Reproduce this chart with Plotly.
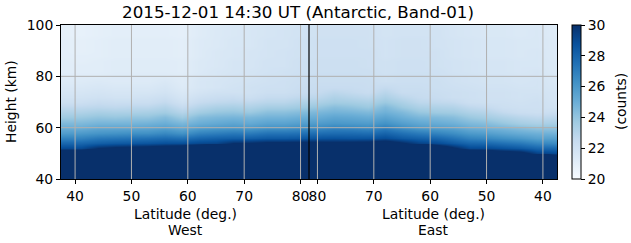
import plotly.graph_objects as go
import plotly.colors as pc

# ---------------- data ----------------
heights = [40, 42, 44, 46, 48, 50, 52, 54, 56, 58, 60, 62, 64, 66, 68, 70,
           72, 74, 76, 78, 80, 82, 84, 86, 88, 90, 92, 94, 96, 98, 100]

lat_west = [38, 41, 44, 47, 50, 53, 56, 59, 62, 65, 68, 71, 74, 77, 80]
lat_east = [80, 77, 74, 71, 68, 65, 62, 59, 56, 53, 50, 47, 44, 41, 38]

# each list: counts from 40 km (bottom) up to 100 km (top)
counts_west = [
    [33,33,33,33,33,31.9,29.0,27.9,26.8,25.8,25.1,24.5,23.7,23.2,22.7,22.2,21.9,21.7,21.5,21.3,21.2,21.1,21.1,21.1,21.0,21.0,21.0,21.0,20.9,20.9,20.9],
    [33,33,33,33,33,32.3,29.0,27.9,26.8,25.9,25.1,24.5,23.8,23.2,22.7,22.2,21.9,21.7,21.5,21.3,21.2,21.1,21.1,21.0,21.0,20.9,20.9,20.9,20.8,20.8,20.8],
    [33,33,33,33,33,33,30.0,28.2,27.2,26.1,25.4,24.7,24.0,23.4,22.8,22.4,22.0,21.8,21.6,21.4,21.2,21.1,21.1,21.1,21.0,21.0,21.0,21.0,20.9,20.9,20.9],
    [33,33,33,33,33,33,30.4,28.4,27.3,26.2,25.4,24.7,23.9,23.3,22.7,22.3,21.9,21.7,21.5,21.3,21.3,21.2,21.2,21.2,21.1,21.1,21.1,21.1,21.0,21.0,21.0],
    [33,33,33,33,33,33,30.6,28.5,27.4,26.3,25.4,24.7,24.0,23.3,22.8,22.3,21.9,21.7,21.5,21.3,21.3,21.2,21.2,21.2,21.1,21.1,21.1,21.1,21.0,21.0,21.0],
    [33,33,33,33,33,33,30.8,28.6,27.5,26.3,25.5,24.8,24.0,23.4,22.8,22.3,22.0,21.7,21.5,21.3,21.3,21.2,21.2,21.2,21.1,21.1,21.1,21.1,21.0,21.0,21.0],
    [33,33,33,33,33,33,31.2,28.8,27.7,26.6,25.7,25.0,24.4,23.6,23.1,22.6,22.2,21.9,21.7,21.5,21.3,21.2,21.2,21.2,21.1,21.1,21.1,21.1,21.0,21.0,21.0],
    [33,33,33,33,33,33,31.5,28.8,27.5,26.2,25.3,24.6,23.7,23.0,22.5,22.0,21.7,21.5,21.3,21.2,21.2,21.1,21.1,21.1,21.0,21.0,21.0,21.0,20.9,20.9,20.9],
    [33,33,33,33,33,33,32.7,29.1,27.9,26.8,25.8,25.0,24.4,23.6,23.0,22.5,22.1,21.8,21.6,21.6,21.5,21.4,21.4,21.4,21.3,21.3,21.3,21.3,21.2,21.2,21.2],
    [33,33,33,33,33,33,34.5,29.2,28.1,27.0,26.0,25.2,24.6,23.9,23.3,22.7,22.3,22.0,21.7,21.7,21.6,21.6,21.5,21.5,21.5,21.5,21.4,21.4,21.4,21.4,21.3],
    [33,33,33,33,33,33,33,30.0,28.2,27.2,26.1,25.4,24.7,24.0,23.4,22.8,22.4,22.0,21.9,21.8,21.8,21.7,21.7,21.7,21.6,21.6,21.6,21.6,21.5,21.5,21.5],
    [33,33,33,33,33,33,33,30.1,28.2,27.1,26.0,25.2,24.6,23.8,23.2,22.7,22.2,22.0,22.0,21.9,21.8,21.8,21.7,21.7,21.7,21.7,21.6,21.6,21.6,21.6,21.5],
    [33,33,33,33,33,33,33,30.4,28.4,27.4,26.3,25.5,24.8,24.2,23.5,22.9,22.5,22.2,22.1,22.0,22.0,21.9,21.9,21.9,21.8,21.8,21.8,21.8,21.7,21.7,21.7],
    [33,33,33,33,33,33,33,30.4,28.4,27.4,26.3,25.5,24.8,24.2,23.5,22.9,22.5,22.2,22.1,22.1,22.0,22.0,21.9,21.9,21.9,21.9,21.8,21.8,21.8,21.8,21.7],
    [33,33,33,33,33,33,33,30.5,28.5,27.5,26.5,25.7,25.0,24.4,23.7,23.2,22.7,22.4,22.3,22.2,22.2,22.1,22.1,22.1,22.0,22.0,22.0,22.0,21.9,21.9,21.9],
]

counts_east = [
    [33,33,33,33,33,33,33,30.5,28.6,27.6,26.6,25.8,25.1,24.6,23.9,23.3,22.8,22.5,22.4,22.3,22.3,22.2,22.2,22.2,22.1,22.1,22.1,22.1,22.0,22.0,22.0],
    [33,33,33,33,33,33,33,30.4,28.7,27.7,26.9,26.0,25.4,24.8,24.3,23.6,23.2,22.8,22.4,22.3,22.3,22.2,22.2,22.2,22.1,22.1,22.1,22.1,22.0,22.0,22.0],
    [33,33,33,33,33,33,33,30.5,28.6,27.7,26.8,25.9,25.3,24.7,24.1,23.5,23.0,22.6,22.4,22.3,22.3,22.2,22.2,22.2,22.1,22.1,22.1,22.1,22.0,22.0,22.0],
    [33,33,33,33,33,33,33,30.6,28.6,27.6,26.6,25.8,25.1,24.5,23.8,23.3,22.8,22.4,22.3,22.3,22.2,22.2,22.1,22.1,22.1,22.1,22.0,22.0,22.0,22.0,21.9],
    [33,33,33,33,33,33,33,31.1,28.9,28.0,27.1,26.2,25.5,24.9,24.5,23.8,23.3,22.9,22.5,22.1,22.1,22.0,22.0,22.0,21.9,21.9,21.9,21.9,21.8,21.8,21.8],
    [33,33,33,33,33,33,33,30.2,28.4,27.5,26.5,25.7,25.0,24.5,23.8,23.3,22.8,22.4,22.3,22.2,22.2,22.1,22.1,22.1,22.0,22.0,22.0,22.0,21.9,21.9,21.9],
    [33,33,33,33,33,33,36.3,29.3,28.1,27.1,26.0,25.3,24.6,23.9,23.3,22.8,22.5,22.4,22.3,22.2,22.2,22.1,22.1,22.1,22.0,22.0,22.0,22.0,21.9,21.9,21.9],
    [33,33,33,33,33,33,31.9,29.0,27.9,26.8,25.8,25.1,24.5,23.7,23.2,22.7,22.4,22.3,22.2,22.2,22.1,22.1,22.0,22.0,22.0,22.0,21.9,21.9,21.9,21.9,21.8],
    [33,33,33,33,33,33,30.3,28.4,27.4,26.4,25.6,24.9,24.3,23.6,23.1,22.6,22.2,22.2,22.1,22.0,22.0,21.9,21.9,21.9,21.8,21.8,21.8,21.8,21.7,21.7,21.7],
    [33,33,33,33,33,32.3,29.0,27.9,26.8,25.9,25.1,24.5,23.8,23.2,22.7,22.2,22.1,22.1,22.0,21.9,21.9,21.8,21.8,21.8,21.7,21.7,21.7,21.7,21.6,21.6,21.6],
    [33,33,33,33,33,31.9,29.0,27.8,26.6,25.7,24.9,24.3,23.5,23.0,22.5,22.1,22.0,22.0,21.9,21.8,21.8,21.7,21.7,21.7,21.6,21.6,21.6,21.6,21.5,21.5,21.5],
    [33,33,33,33,33,31.1,28.7,27.5,26.3,25.4,24.7,23.9,23.2,22.6,22.2,22.1,22.0,22.0,21.9,21.8,21.8,21.7,21.7,21.7,21.6,21.6,21.6,21.6,21.5,21.5,21.5],
    [33,33,33,33,33,30.7,28.4,27.2,26.0,25.1,24.4,23.5,22.9,22.3,22.1,22.0,21.9,21.9,21.8,21.7,21.7,21.6,21.6,21.6,21.5,21.5,21.5,21.5,21.4,21.4,21.4],
    [33,33,33,33,36.3,29.3,27.9,26.7,25.6,24.9,24.1,23.3,22.7,22.2,22.1,22.1,22.0,21.9,21.8,21.8,21.7,21.7,21.6,21.6,21.6,21.6,21.5,21.5,21.5,21.5,21.4],
    [33,33,33,33,32.3,29.0,27.8,26.5,25.6,24.8,24.1,23.4,22.8,22.3,21.9,21.8,21.7,21.7,21.6,21.5,21.5,21.4,21.4,21.4,21.3,21.3,21.3,21.3,21.2,21.2,21.2],
]

west_ticks = [40, 50, 60, 70, 80]
east_ticks = [80, 70, 60, 50, 40]
height_ticks = [40, 60, 80, 100]
cbar_ticks = [20, 22, 24, 26, 28, 30]

# ---------------- layout helpers ----------------
MIRROR = 163.0          # east latitudes are mirrored onto the continuing x axis
SPLIT = MIRROR / 2.0    # boundary between West and East halves
X_RANGE = [37.5, MIRROR - 37.5]

xs = list(lat_west) + [MIRROR - v for v in lat_east]
columns = counts_west + counts_east
z = [[col[i] for col in columns] for i in range(len(heights))]

FONT = "DejaVu Sans"
W, H = 631, 243
L, R, T, B = 61, 74, 25, 64

fig = go.Figure()
fig.add_trace(go.Heatmap(
    x=xs, y=heights, z=z,
    zmin=20, zmax=30, zsmooth="best",
    colorscale=pc.sequential.Blues,
    colorbar=dict(
        thickness=9, thicknessmode="pixels",
        len=1, lenmode="fraction", y=0.5, yanchor="middle",
        x=(572 - L) / (W - L - R), xanchor="left", xpad=0, ypad=0,
        outlinecolor="black", outlinewidth=1,
        tickvals=cbar_ticks, ticks="outside", ticklen=4, tickcolor="black",
        tickfont=dict(family=FONT, size=13.9, color="black"),
    ),
    hoverinfo="skip",
))

shapes = []
grid_style = dict(color="#b0b0b0", width=1)
for v in west_ticks:
    shapes.append(dict(type="line", xref="x", yref="paper", x0=v, x1=v, y0=0, y1=1,
                       line=grid_style, layer="above"))
for v in east_ticks:
    shapes.append(dict(type="line", xref="x", yref="paper", x0=MIRROR - v, x1=MIRROR - v,
                       y0=0, y1=1, line=grid_style, layer="above"))
for v in height_ticks[1:-1]:
    shapes.append(dict(type="line", xref="paper", yref="y", x0=0, x1=1, y0=v, y1=v,
                       line=grid_style, layer="above"))
shapes.append(dict(type="line", xref="x", yref="paper", x0=SPLIT, x1=SPLIT, y0=0, y1=1,
                   line=dict(color="black", width=1.2), layer="above"))

pw = W - L - R
ph = H - T - B
def px_x(p):
    return (p - L) / pw
def px_y(p):
    return (H - B - p) / ph

lab = dict(family=FONT, size=13.9, color="black")
annotations = [
    dict(text="Latitude (deg.)", x=px_x(185), y=px_y(214), xref="paper", yref="paper",
         showarrow=False, font=lab, xanchor="center", yanchor="middle"),
    dict(text="West", x=px_x(185), y=px_y(230), xref="paper", yref="paper",
         showarrow=False, font=lab, xanchor="center", yanchor="middle"),
    dict(text="Latitude (deg.)", x=px_x(433), y=px_y(214), xref="paper", yref="paper",
         showarrow=False, font=lab, xanchor="center", yanchor="middle"),
    dict(text="East", x=px_x(433), y=px_y(230), xref="paper", yref="paper",
         showarrow=False, font=lab, xanchor="center", yanchor="middle"),
    dict(text="Height (km)", x=px_x(11), y=0.5, xref="paper", yref="paper",
         showarrow=False, font=lab, textangle=-90, xanchor="center", yanchor="middle"),
    dict(text="(counts)", x=px_x(621), y=0.5, xref="paper", yref="paper",
         showarrow=False, font=lab, textangle=-90, xanchor="center", yanchor="middle"),
]

fig.update_layout(
    width=W, height=H,
    margin=dict(l=L, r=R, t=T, b=B, pad=0),
    paper_bgcolor="white", plot_bgcolor="white",
    title=dict(text="2015-12-01 14:30 UT (Antarctic, Band-01)",
               font=dict(family=FONT, size=16.7, color="black"),
               x=px_x(298), xref="paper", xanchor="center",
               y=1 - 12 / H, yref="container", yanchor="middle"),
    xaxis=dict(range=X_RANGE, showgrid=False, zeroline=False,
               tickvals=list(west_ticks) + [MIRROR - v for v in east_ticks],
               ticktext=[str(v) for v in west_ticks] + [str(v) for v in east_ticks],
               tickangle=0,
               ticks="outside", ticklen=4, tickcolor="black", tickwidth=1,
               showline=True, linecolor="black", linewidth=1, mirror=True,
               tickfont=lab),
    yaxis=dict(range=[40, 100], showgrid=False, zeroline=False,
               tickvals=height_ticks, ticks="outside", ticklen=4, tickcolor="black",
               tickwidth=1, showline=True, linecolor="black", linewidth=1, mirror=True,
               tickfont=lab),
    shapes=shapes,
    annotations=annotations,
    showlegend=False,
)

fig.write_html("out.html")
